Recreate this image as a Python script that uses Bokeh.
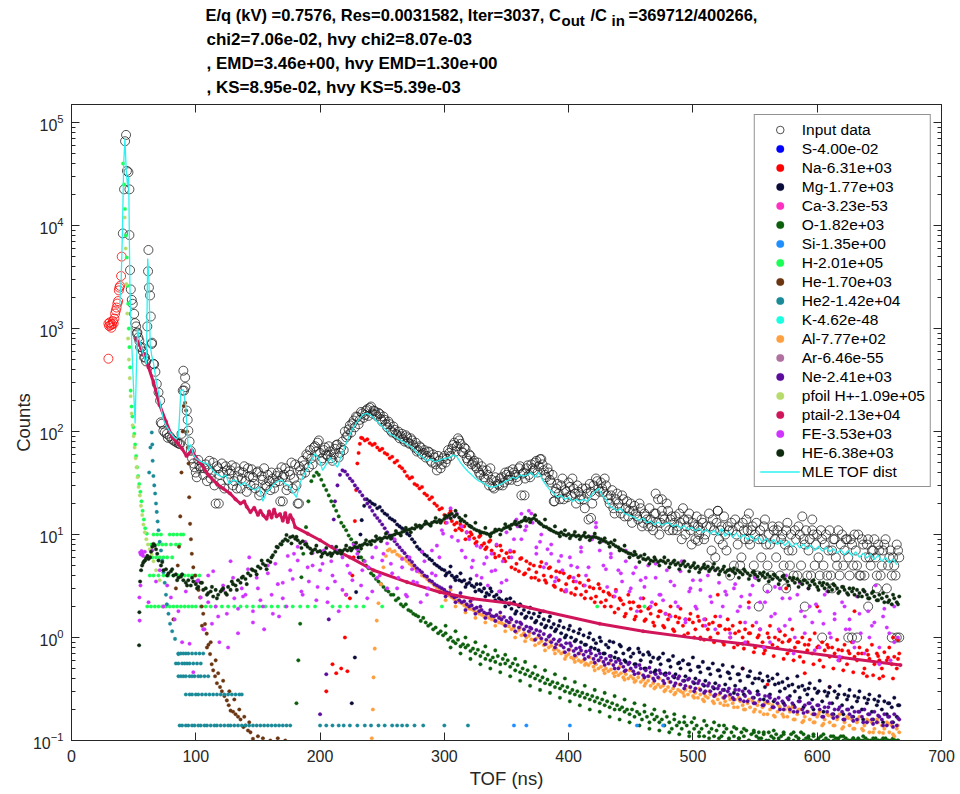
import numpy as np
from bokeh.plotting import figure
from bokeh.layouts import column
from bokeh.models import (Range1d, FixedTicker, LinearAxis, LogAxis, Legend, LegendItem,
                          ColumnDataSource)
from bokeh.embed import file_html
from bokeh.resources import INLINE
from bokeh.core.properties import value

# ------------------------------------------------------------------ data
input_red = [(29.7, 510), (29.7, 1120), (30.3, 1060), (30.9, 1150), (31.5, 1080), (32.1, 1020),
             (32.7, 1100), (33.3, 1180), (33.9, 1120), (34.5, 1250), (35.1, 1400), (35.7, 1500),
             (36.3, 1600), (36.9, 1750), (37.5, 1850), (38.1, 2350), (38.5, 2500), (39.1, 2600),
             (39.9, 3240), (40.4, 5000)]
input_early = [(41.3, 8400), (42.3, 22500), (43.1, 66000), (43.9, 76000), (44.6, 34000), (45.8, 33000),
               (46.6, 22500), (46.6, 8100), (47.1, 3700), (47.7, 2400), (48.5, 1900), (49.3, 1740),
               (50.4, 1390), (51.2, 1130), (52.0, 1050), (52.5, 900), (53.0, 915), (53.8, 820),
               (54.6, 760), (55.2, 660), (56.5, 660), (57.4, 600), (58.4, 525), (59.2, 525),
               (60.0, 480), (61.0, 1050), (61.6, 3600), (61.9, 5800), (62.3, 2500), (63.2, 2100),
               (63.8, 1310), (64.6, 710), (64.8, 730), (65.9, 455), (66.5, 450), (67.5, 380),
               (68.6, 290), (70.0, 240), (71.3, 200), (71.8, 123), (72.6, 119), (73.9, 102),
               (75.0, 98), (76.7, 95), (77.5, 87), (79.0, 90), (80.5, 85), (82.0, 82), (83.5, 80),
               (85.0, 78), (86.5, 76), (87.4, 76), (88.5, 95), (89.5, 250), (90.0, 390), (90.6, 250),
               (91.4, 335), (91.6, 270), (92.7, 160), (93.5, 130), (94.0, 102), (95.0, 80),
               (96.0, 65), (97.0, 55), (98.0, 49), (99.0, 45), (100.0, 40), (100.8, 36),
               (102.0, 53), (103.0, 46), (104.0, 44)]
input_t0 = 106
input_counts = [38, 48, 42, 35, 50, 20, 44, 31, 40, 46,
                34, 42, 30, 45, 36, 28, 40, 33, 44, 30,
                36, 28, 41, 26, 34, 30, 38, 27, 35, 32,
                40, 21, 36, 44, 30, 38, 28, 48, 20, 42,
                52, 40, 58, 66, 48, 72, 78, 62, 55, 70,
                58, 64, 52, 68, 75, 62, 80, 100, 92, 115,
                120, 110, 138, 130, 150, 145, 165, 170, 150, 158,
                140, 148, 125, 130, 110, 118, 98, 104, 92, 86,
                95, 80, 88, 76, 82, 70, 64, 72, 60, 66,
                58, 63, 50, 56, 42, 52, 48, 58, 54, 62,
                68, 78, 72, 82, 64, 70, 55, 60, 48, 52,
                44, 40, 46, 36, 42, 30, 34, 28, 33, 30,
                36, 32, 38, 41, 34, 40, 36, 44, 24, 40,
                44, 38, 48, 42, 52, 46, 54, 42, 36, 40,
                32, 21, 28, 25, 30, 22, 26, 32, 24, 28,
                20, 26, 24, 22, 28, 14, 26, 30, 35, 28,
                32, 26, 30, 22, 24, 18, 22, 20, 16, 22,
                18, 15, 20, 17, 16, 14, 18, 13, 15, 12,
                14, 11, 16, 22, 13, 15, 12, 17, 14, 11,
                15, 12, 13, 18, 10, 14, 11, 13, 9, 12,
                11, 13, 10, 5, 12, 14, 6, 17, 11, 8,
                10, 12, 4, 11, 14, 8, 5, 13, 9, 11,
                8, 12, 10, 4, 11, 9, 14, 5, 8, 12,
                9, 11, 4, 10, 8, 13, 5, 7, 11, 4,
                10, 15, 8, 4, 9, 11, 5, 10, 4, 9,
                8, 4, 11, 7, 9, 5, 4, 10, 7, 9,
                4, 8, 10, 5, 4, 9, 4, 8, 6, 7,
                9, 4, 7, 5, 8, 3, 6, 4, 5, 8,
                6]
input_t1 = 107
input_counts_odd = [44, 33, 52, 40, 30, 46, 38, 49, 28, 42,
                    39, 47, 33, 28, 41, 35, 46, 26, 37, 43,
                    31, 40, 24, 37, 44, 29, 33, 40, 28, 37,
                    33, 45, 38, 27, 41, 50, 35, 30, 46, 38,
                    47, 60, 45, 55, 70, 64, 82, 52, 66, 60,
                    72, 55, 60, 74, 56, 70, 66, 88, 105, 98,
                    128, 140, 118, 155, 136, 160, 142, 175, 160, 146,
                    152, 132, 140, 118, 125, 102, 112, 95, 100, 90,
                    84, 92, 78, 86, 74, 78, 66, 70, 62, 56,
                    64, 52, 60, 48, 58, 44, 55, 50, 66, 58,
                    74, 64, 86, 76, 62, 68, 52, 58, 50, 46,
                    50, 38, 42, 34, 38, 44, 29, 36, 31, 35,
                    30, 40, 34, 37, 43, 38, 33, 46, 39, 35,
                    47, 36, 44, 50, 40, 54, 48, 38, 44, 34,
                    38, 26, 31, 22, 35, 27, 23, 29, 35, 25,
                    30, 22, 28, 18, 25, 31, 20, 24, 33, 26,
                    28, 35, 24, 20, 27, 16, 25, 18, 24, 15,
                    21, 17, 13, 19, 15, 20, 12, 16, 14, 18,
                    12, 16, 13, 10, 17, 14, 20, 11, 15, 13,
                    11, 16, 9, 14, 12, 16, 8, 12, 15, 10,
                    14, 9, 12, 16, 7, 11, 13, 9, 12, 15,
                    7, 11, 13, 5, 10, 12, 6, 11, 14, 9,
                    11, 5, 13, 9, 6, 12, 8, 10, 4, 11,
                    6, 12, 9, 5, 11, 7, 10, 4, 9, 12,
                    5, 9, 11, 7, 4, 10, 8, 6, 11, 5,
                    10, 7, 4, 9, 6, 11, 8, 5, 9, 6,
                    9, 5, 7, 10, 4, 8, 6, 9, 5, 7,
                    6, 8, 4, 7, 9, 5, 7, 6, 4, 7]
input_extra = [(118.5, 20), (170, 21), (183, 20), (364.5, 24), (388.7, 21), (475, 22), (504, 8.7),
               (418, 14.5), (604, 1), (625, 1), (628, 1), (632, 1), (660, 1), (664, 1), (666, 1),
               (553, 2), (590, 2), (641, 2), (560, 3), (575, 3), (612, 3), (648, 3), (596, 14),
               (520, 17), (545, 16), (470, 25)]

na_pre = [(205, 0.3), (210, 0.55), (213, 0.45), (217, 0.5), (220, 1.0), (221, 2.6), (222, 0.47),
          (224, 2.4), (226, 4.0), (227, 6.0), (228, 13.5), (229, 27), (230, 49), (231, 62),
          (232, 76), (233, 87)]
na_t0 = 234
na_counts = [86, 82, 84, 77, 74, 76, 70, 66, 68, 62,
             60, 55, 57, 50, 52, 46, 44, 41, 37, 35,
             36, 31, 30, 28, 29, 25, 24, 22, 23, 20,
             19, 17.5, 18, 15.5, 15, 16, 13.5, 12.5, 13, 11.5,
             11, 12, 10.5, 9.5, 10, 9.2, 8.5, 9.5, 7.8, 8.2,
             7.5, 8.5, 7, 6.5, 7.8, 6.2, 7, 5.8, 6.6,
             6.0, 4.8, 6.8, 5.2, 4.4, 5.9, 4.1, 5.5, 4.6, 3.8,
             5.0, 4.3, 3.6, 5.4, 4.0, 3.4, 4.7, 3.9, 3.2, 4.4,
             3.6, 2.9, 4.2, 3.3, 3.8, 2.7, 3.5, 3.0, 4.0, 2.6,
             3.2, 2.8, 3.6, 2.4, 3.0, 2.5, 3.3, 2.2, 2.8, 2.3,
             2.7, 2.0, 2.5, 2.9, 1.9, 2.3, 2.1, 1.7, 2.6, 1.9,
             2.2, 1.6, 2.0, 1.8, 2.4, 1.5, 1.9, 1.7, 1.4, 2.1,
             1.6, 1.8, 1.3, 1.7, 1.5, 2.0, 1.2, 1.6, 1.4, 1.9,
             1.3, 1.5, 1.1, 1.7, 1.4, 1.2, 1.6, 1.0, 1.3, 1.5,
             1.2, 1.0, 1.4, 1.6, 1.1, 1.3, 0.9, 1.2, 1.5, 1.0,
             1.3, 1.1, 0.85, 1.4, 1.0, 1.2, 0.9, 1.1, 1.3, 0.8,
             1.0, 1.2, 0.9, 0.75, 1.1, 1.3, 0.85, 1.0, 0.8, 1.15,
             0.9, 1.05, 0.7, 0.95, 1.2, 0.8, 0.9, 0.65, 1.0, 0.85,
             0.75, 0.95, 0.7, 1.1, 0.8, 0.6, 0.9, 0.75, 0.85, 0.65,
             0.8, 0.7, 0.95, 0.6, 0.75, 0.85, 0.55, 0.7, 0.9, 0.65,
             0.6, 0.8, 0.7, 0.5, 0.75, 0.62, 0.85, 0.55, 0.7, 0.6,
             0.5, 0.72, 0.6, 0.8, 0.55, 0.65, 0.5, 0.7]
na_t1 = 301
na_counts_odd = [13, 17, 11, 12.5, 9, 10.5, 8.2, 9.8, 7.2, 8.8,
                 6.0, 7.8, 5.5, 6.8, 4.6, 5.8, 4.2, 5.2, 3.8, 4.9,
                 3.6, 4.8, 3.1, 4.3, 2.8, 3.9, 2.6, 3.4, 2.4, 3.1,
                 2.2, 3.0, 2.0, 2.6, 1.75, 2.4, 1.6, 2.2, 1.5, 2.0,
                 1.45, 1.95, 1.3, 1.8, 1.25, 1.65, 1.15, 1.55, 1.05, 1.5,
                 1.0, 1.45, 0.95, 1.35, 0.9, 1.3, 0.85, 1.2, 0.8, 1.15,
                 0.78, 1.1, 0.72, 1.05, 0.7, 1.0, 0.66, 0.95, 0.62, 0.92,
                 0.6, 0.9, 0.58, 0.85, 0.55, 0.82, 0.52, 0.8, 0.5, 0.76,
                 0.48, 0.74, 0.46, 0.7, 0.45, 0.68, 0.43, 0.66, 0.42, 0.64,
                 0.4, 0.62]
na_extra = [(520, 2.6), (545, 2.2), (575, 3.0), (600, 2.0), (630, 1.8), (560, 0.35), (610, 0.33),
            (650, 0.4), (540, 0.5), (590, 0.45), (640, 0.42), (661, 1.0), (665, 0.95)]

mg_pre = [(225.5, 0.23), (228, 0.64), (229, 2.76), (231, 6.0), (232.5, 10), (233.5, 13.8),
          (235.5, 19), (237.6, 22)]
mg_t0 = 240
mg_counts = [21, 20, 19.5, 18, 18.5, 17, 16, 15.5, 14.5, 14,
             13.5, 12.5, 12, 11.5, 11, 10.2, 9.8, 9, 8.4, 7.6,
             7.2, 6.8, 6.4, 6.2, 5.8, 5.6, 5.2, 5.0, 4.8, 4.6,
             4.5, 4.2, 4.3, 4.0, 3.8, 3.9, 3.6, 3.5, 3.6, 3.3,
             3.4, 3.2, 3.1, 3.3, 2.9, 2.8, 3.0, 2.7, 2.6, 2.8,
             2.5, 2.6, 2.4, 2.3, 2.2, 2.35,
             2.1, 1.9, 2.2, 1.8, 2.0, 1.7, 1.85, 1.6, 1.75, 1.55,
             1.7, 1.45, 1.6, 1.35, 1.5, 1.3, 1.45, 1.25, 1.35, 1.2,
             1.3, 1.1, 1.25, 1.05, 1.2, 1.0, 1.15, 0.95, 1.1, 0.9,
             1.05, 0.85, 1.0, 0.8, 0.95, 0.88, 0.75, 0.92, 0.7, 0.85,
             0.8, 0.66, 0.9, 0.72, 0.62, 0.82, 0.7, 0.58, 0.76, 0.65,
             0.7, 0.55, 0.78, 0.6, 0.68, 0.5, 0.72, 0.58, 0.64, 0.48,
             0.62, 0.55, 0.7, 0.45, 0.6, 0.52, 0.66, 0.44, 0.56, 0.5,
             0.6, 0.42, 0.55, 0.48, 0.64, 0.4, 0.52, 0.46, 0.58, 0.38,
             0.5, 0.44, 0.56, 0.36, 0.48, 0.42, 0.54, 0.35, 0.46, 0.4,
             0.52, 0.34, 0.44, 0.38, 0.5, 0.32, 0.42, 0.47, 0.36, 0.4,
             0.3, 0.45, 0.38, 0.33, 0.42, 0.28, 0.4, 0.35, 0.44, 0.3,
             0.37, 0.32, 0.4, 0.27, 0.35, 0.3, 0.42, 0.26, 0.34, 0.31,
             0.28, 0.36, 0.25, 0.32, 0.29, 0.38, 0.24, 0.3, 0.27, 0.33,
             0.23, 0.3, 0.26, 0.34, 0.22, 0.28, 0.25, 0.31, 0.21, 0.27,
             0.24, 0.3, 0.2, 0.26, 0.23, 0.28, 0.19, 0.25, 0.22, 0.27,
             0.2, 0.24, 0.18, 0.23, 0.21, 0.26, 0.17, 0.22]
mg_t1 = 301
mg_counts_odd = [4.0, 4.9, 3.6, 4.2, 3.1, 3.7, 2.8, 3.3, 2.5, 3.0,
                 2.3, 2.8, 2.0, 2.4, 1.7, 2.1, 1.55, 1.95, 1.4, 1.75,
                 1.25, 1.6, 1.15, 1.45, 1.0, 1.3, 0.92, 1.2, 0.85, 1.1,
                 0.78, 1.0, 0.7, 0.92, 0.64, 0.85, 0.6, 0.78, 0.55, 0.72,
                 0.5, 0.68, 0.46, 0.64, 0.44, 0.6, 0.41, 0.57, 0.38, 0.55,
                 0.36, 0.52, 0.34, 0.5, 0.32, 0.48, 0.31, 0.45, 0.29, 0.44,
                 0.28, 0.42, 0.26, 0.4, 0.25, 0.38, 0.24, 0.36, 0.23, 0.34,
                 0.22, 0.33, 0.21, 0.32, 0.2, 0.3, 0.19, 0.29, 0.18, 0.28,
                 0.18, 0.27, 0.17, 0.26, 0.16, 0.25, 0.16, 0.24, 0.15, 0.23,
                 0.15, 0.22]

o_pre = [(181, 0.23), (182.5, 0.6), (184, 1.36), (185, 3.85), (186.5, 6.5), (188.7, 11.8),
         (190.6, 21), (193, 33), (195, 37), (197.3, 40)]
o_t0 = 199
o_counts = [38, 34, 30, 27, 24, 21, 19, 17, 15, 13,
            12, 11, 9.8, 9.0, 8.2, 7.4, 6.8, 6.0, 5.6, 5.0,
            4.7, 4.2, 4.0, 3.7, 3.5, 3.3, 3.1, 2.9, 2.8, 2.6,
            2.6, 2.3, 2.4, 2.1, 2.0, 2.1, 1.85, 1.8, 1.7, 1.65,
            1.6, 1.45, 1.55, 1.4, 1.3, 1.35, 1.2, 1.25, 1.1, 1.15,
            1.05, 1.1, 0.95, 1.0, 0.92, 0.88, 0.95, 0.82, 0.86, 0.8,
            0.84, 0.74, 0.78, 0.7, 0.76, 0.66, 0.72, 0.62, 0.68, 0.6,
            0.64, 0.58, 0.66, 0.55, 0.62, 0.56,
            0.6, 0.52, 0.56, 0.48, 0.54, 0.46, 0.5, 0.44, 0.48, 0.42,
            0.45, 0.4, 0.43, 0.38, 0.41, 0.36, 0.39, 0.35, 0.37, 0.33,
            0.36, 0.32, 0.34, 0.3, 0.33, 0.29, 0.31, 0.28, 0.3, 0.27,
            0.29, 0.26, 0.28, 0.25, 0.27, 0.24, 0.26, 0.23, 0.25, 0.22,
            0.24, 0.21, 0.23, 0.2, 0.22, 0.2, 0.21, 0.19, 0.2, 0.18,
            0.2, 0.17, 0.19, 0.18, 0.16, 0.19, 0.17, 0.15, 0.18, 0.16,
            0.17, 0.15, 0.16, 0.14, 0.17, 0.15, 0.13, 0.16, 0.14, 0.15,
            0.13, 0.15, 0.14, 0.12, 0.15, 0.13, 0.14, 0.12, 0.13, 0.11,
            0.14, 0.12, 0.13, 0.11, 0.125, 0.14, 0.11, 0.12, 0.13, 0.105,
            0.12, 0.11, 0.13, 0.105, 0.12, 0.11, 0.125, 0.1, 0.115, 0.12,
            0.11, 0.12, 0.105, 0.115, 0.1, 0.12, 0.11, 0.105, 0.115, 0.1,
            0.11, 0.12, 0.1, 0.105, 0.115, 0.1, 0.11, 0.105, 0.12, 0.1,
            0.105, 0.11, 0.1, 0.115, 0.1, 0.105, 0.11, 0.1, 0.105, 0.1,
            0.11, 0.1, 0.105, 0.1, 0.11, 0.1, 0.105, 0.1, 0.1, 0.105,
            0.1, 0.105, 0.1, 0.1, 0.105, 0.1, 0.1, 0.1, 0.105, 0.1,
            0.1, 0.1, 0.105, 0.1, 0.1, 0.1, 0.1, 0.1]
o_t1 = 301
o_counts_odd = [1.3, 0.8, 1.15, 0.7, 1.0, 0.62, 0.9, 0.55, 0.82, 0.5,
                0.75, 0.46, 0.68, 0.42, 0.62, 0.38, 0.58, 0.34, 0.52, 0.31,
                0.48, 0.29, 0.44, 0.26, 0.4, 0.24, 0.37, 0.22, 0.34, 0.2,
                0.31, 0.19, 0.29, 0.17, 0.27, 0.16, 0.25, 0.15, 0.23, 0.14,
                0.22, 0.13, 0.2, 0.125, 0.19, 0.12, 0.18, 0.115, 0.17, 0.11,
                0.165, 0.11, 0.155, 0.105, 0.15, 0.105, 0.14, 0.1, 0.135, 0.105,
                0.13, 0.1, 0.125, 0.105, 0.12, 0.1, 0.125, 0.105, 0.115, 0.1,
                0.12, 0.1, 0.115, 0.105, 0.11, 0.1, 0.115, 0.1, 0.11, 0.105,
                0.11, 0.1, 0.105, 0.1, 0.11, 0.1, 0.105, 0.1, 0.105, 0.1,
                0.105, 0.1]

si_pts = [(356, 0.14), (366, 0.14), (401, 0.14), (455, 0.14), (476, 0.14)]

# species whose fitted counts lie far below the axis floor
s_pts = [(300, 0.004)]
ca_pts = [(300, 1e-50)]
k_pts = [(300, 1e-46)]
ar_pts = [(300, 1e-52)]

h_peak = [(41.5, 40000), (42.3, 25000), (43.0, 14500), (43.8, 8000), (44.5, 4900), (45.1, 2600),
          (45.6, 1740), (46.1, 1000), (46.6, 660), (47.1, 420), (47.6, 250), (48.3, 175),
          (49.0, 140), (49.8, 110), (50.5, 95), (51.2, 75), (52.0, 58), (52.8, 45), (53.6, 37),
          (54.5, 31), (55.4, 26), (56.3, 21), (57.2, 17), (58.2, 14), (59.3, 11.5), (60.6, 10.2)]
h_row10_t = [66, 69, 72, 79, 82, 85, 88, 90]
h_row8_t = [64, 67, 70, 73, 76, 80, 84, 87]
h_row6_t = [62, 65, 68, 71, 74, 77, 81]
h_row4_t = [63, 66, 70, 74, 78, 82, 86, 88, 91, 94, 97, 100, 103]
h_row2_t = [61, 64, 67, 70, 73, 76, 79, 82, 85, 88, 91, 94, 97, 100, 104, 108, 112, 116, 121,
            126, 131, 136, 141, 146, 151, 156, 161, 166, 172, 178, 184, 190, 196, 210, 216, 222,
            229, 235, 250, 298, 318, 423, 461]

he_pts = [(82, 1.5), (84, 3.0), (85.5, 5.0), (86.5, 7.6), (87.5, 15), (88.5, 40), (89.5, 100),
          (90.3, 177), (91.4, 190), (92.2, 160), (93.0, 100), (93.6, 70), (94.2, 49), (94.7, 23),
          (95.4, 12.7), (96.1, 9), (96.8, 6.5), (98.0, 4.8), (99.4, 4.0), (100.8, 3.5),
          (102.2, 2.9), (103.5, 2.45), (104.8, 2.0), (106.0, 1.7), (107.4, 1.35), (108.8, 1.09),
          (110.2, 0.85), (111.5, 0.69), (112.8, 0.55), (114.0, 0.48), (115.5, 0.42), (117, 0.36),
          (119.5, 0.33), (121, 0.3), (123, 0.27), (125, 0.245), (126.5, 0.22), (128, 0.195),
          (130, 0.19), (132, 0.18), (134, 0.17), (136, 0.16), (138.3, 0.135), (140, 0.14),
          (142, 0.125), (144, 0.12), (146, 0.104), (150, 0.11), (154, 0.105), (160, 0.1),
          (166, 0.105), (172, 0.1), (105, 1.3), (109, 0.8), (112, 0.9), (116, 0.6), (118, 0.45),
          (122, 0.38), (127, 0.3), (131, 0.25), (135, 0.2), (139, 0.17), (143, 0.15)]

he2_decay = [(62.5, 40), (63.5, 70), (64.6, 98), (65.0, 75), (65.3, 52), (65.9, 37), (66.6, 30),
             (67.3, 25), (68.0, 20), (68.6, 16.6), (69.3, 13.4), (70.0, 11), (71.0, 8.5), (72.0, 7),
             (73.0, 5.6), (74.0, 4.3), (75.0, 3.4), (76.0, 2.6), (76.7, 2.1), (78.0, 1.7),
             (79.3, 1.36), (81.0, 1.15), (83.3, 0.97), (86.0, 0.69)]
he2_row070_t = [86, 88, 90, 92, 94, 97, 100, 103, 106]
he2_row056_t = [84, 86, 89, 91, 93, 95, 98, 101, 104]
he2_row042_t = [86, 88, 90, 92, 95, 97, 99, 102, 104, 107, 110]
he2_row028_t = [92, 95, 97, 100, 102, 105, 108, 111, 114, 117, 120, 123, 126, 129, 132, 135, 137]
he2_row014_t = [87, 89, 92, 94, 97, 99, 102, 104, 107, 109, 112, 115, 117, 120, 123, 126, 128, 131,
                134, 137, 140, 143, 146, 149, 152, 155, 158, 161, 164, 167, 170, 173, 176, 200,
                205, 210, 215, 219, 224, 230, 236, 241, 247, 252, 258, 262, 266, 270, 276, 283,
                300, 319]

al_pre = [(241.6, 0.105), (242.5, 0.2), (243, 0.41), (244, 0.78), (245.6, 1.46), (247, 2.15),
          (249, 3.3), (251, 4.8), (253, 6.2), (254.5, 7.0)]
al_t0 = 256
al_counts = [7.2, 6.8, 6.9, 6.4, 6.2, 5.9, 5.8, 5.5, 5.2, 5.0,
             4.7, 4.5, 4.3, 4.0, 3.9, 3.7, 3.5, 3.4, 3.2, 3.05,
             2.9, 2.85, 2.7, 2.6, 2.55, 2.45, 2.35, 2.3, 2.2, 2.15,
             2.05, 2.0, 1.9, 1.88, 1.82, 1.75, 1.7, 1.66, 1.6, 1.58,
             1.55, 1.5, 1.48, 1.44, 1.4, 1.38, 1.34, 1.3,
             1.28, 1.2, 1.25, 1.12, 1.18, 1.05, 1.1, 1.0, 1.04, 0.96,
             0.94, 0.98, 0.88, 0.92, 0.84, 0.86, 0.8, 0.83, 0.76, 0.78,
             0.74, 0.7, 0.72, 0.66, 0.69, 0.64, 0.62, 0.65, 0.6, 0.58,
             0.6, 0.56, 0.54, 0.57, 0.52, 0.55, 0.5, 0.52, 0.48, 0.5,
             0.47, 0.49, 0.45, 0.46, 0.43, 0.45, 0.41, 0.44, 0.4, 0.42,
             0.4, 0.38, 0.41, 0.37, 0.39, 0.36, 0.38, 0.34, 0.36, 0.33,
             0.35, 0.33, 0.34, 0.31, 0.33, 0.3, 0.32, 0.29, 0.31, 0.3,
             0.29, 0.31, 0.28, 0.3, 0.27, 0.29, 0.26, 0.28, 0.25, 0.27,
             0.26, 0.28, 0.24, 0.27, 0.25, 0.23, 0.26, 0.24, 0.22, 0.25,
             0.23, 0.25, 0.21, 0.24, 0.22, 0.2, 0.23, 0.21, 0.24, 0.2,
             0.22, 0.19, 0.21, 0.23, 0.18, 0.2, 0.22, 0.17, 0.19, 0.21,
             0.18, 0.2, 0.17, 0.19, 0.21, 0.16, 0.18, 0.2, 0.15, 0.17,
             0.19, 0.16, 0.18, 0.15, 0.17, 0.19, 0.14, 0.16, 0.18, 0.15,
             0.17, 0.14, 0.16, 0.18, 0.13, 0.15, 0.17, 0.14, 0.16, 0.13,
             0.15, 0.17, 0.13, 0.14, 0.16, 0.12, 0.15, 0.13, 0.16, 0.12,
             0.14, 0.13, 0.15, 0.12, 0.14, 0.11, 0.13, 0.12]
al_t1 = 301
al_counts_odd = [2.3, 2.9, 2.0, 2.5, 1.75, 2.1, 1.55, 1.85, 1.4, 1.65,
                 1.3, 1.6, 1.15, 1.4, 1.0, 1.25, 0.92, 1.12, 0.84, 1.0,
                 0.75, 0.92, 0.7, 0.84, 0.62, 0.76, 0.58, 0.7, 0.54, 0.64,
                 0.48, 0.6, 0.45, 0.56, 0.42, 0.52, 0.39, 0.48, 0.37, 0.45,
                 0.34, 0.42, 0.32, 0.4, 0.3, 0.37, 0.28, 0.35, 0.27, 0.33,
                 0.26, 0.32, 0.24, 0.3, 0.23, 0.28, 0.22, 0.27, 0.21, 0.26,
                 0.2, 0.25, 0.19, 0.24, 0.18, 0.23, 0.175, 0.22, 0.17, 0.21,
                 0.16, 0.2, 0.155, 0.19, 0.15, 0.18, 0.145, 0.175, 0.14, 0.17,
                 0.135, 0.165, 0.13, 0.16, 0.125, 0.155, 0.12, 0.15, 0.118, 0.145,
                 0.115, 0.14]

ne_pre = [(200, 0.18), (205, 0.44), (207, 1.5), (209.4, 7.6), (211, 14), (212, 21), (214, 30),
          (216, 38), (218, 42)]
ne_t0 = 220
ne_counts = [41, 38, 35, 33, 30, 28, 26, 24, 22, 20,
             18.5, 17, 15.5, 14.5, 13.5, 12.5, 11.5, 10.5, 9.8, 9.2,
             8.6, 8.0, 7.5, 7.0, 6.6, 6.1, 5.7, 5.4, 5.0, 4.7,
             4.5, 4.3, 4.0, 3.9, 3.6, 3.5, 3.3, 3.2, 3.1, 3.0,
             2.9, 2.75, 2.7, 2.55, 2.45, 2.5, 2.3, 2.2, 2.25, 2.1,
             2.0, 2.05, 1.9, 1.95, 1.8, 1.85, 1.75, 1.7, 1.72, 1.62,
             1.6, 1.65, 1.55, 1.5, 1.58, 1.45,
             1.4, 1.5, 1.3, 1.42, 1.25, 1.35, 1.2, 1.28, 1.15, 1.22,
             1.1, 1.18, 1.05, 0.98, 1.08, 0.95, 1.02, 0.9, 0.96, 0.86,
             0.92, 0.84, 0.8, 0.88, 0.76, 0.83, 0.74, 0.78, 0.7, 0.75,
             0.68, 0.73, 0.65, 0.7, 0.62, 0.67, 0.6, 0.64, 0.58, 0.62,
             0.56, 0.6, 0.54, 0.58, 0.5, 0.56, 0.52, 0.48, 0.55, 0.5,
             0.47, 0.52, 0.45, 0.5, 0.43, 0.48, 0.42, 0.46, 0.4, 0.44,
             0.41, 0.45, 0.38, 0.43, 0.4, 0.37, 0.42, 0.36, 0.4, 0.35,
             0.38, 0.34, 0.39, 0.33, 0.37, 0.32, 0.36, 0.31, 0.35, 0.3,
             0.34, 0.3, 0.33, 0.28, 0.32, 0.29, 0.31, 0.27, 0.3, 0.28,
             0.26, 0.31, 0.28, 0.25, 0.3, 0.27, 0.24, 0.29, 0.26, 0.23,
             0.28, 0.25, 0.22, 0.27, 0.24, 0.26, 0.21, 0.25, 0.23, 0.2,
             0.24, 0.22, 0.26, 0.2, 0.23, 0.21, 0.19, 0.24, 0.2, 0.22,
             0.19, 0.23, 0.21, 0.18, 0.22, 0.2, 0.17, 0.21, 0.19, 0.23,
             0.18, 0.2, 0.17, 0.21, 0.19, 0.16, 0.2, 0.18, 0.17, 0.19,
             0.16, 0.19, 0.17, 0.2, 0.15, 0.18, 0.16, 0.19, 0.15, 0.17,
             0.16, 0.18, 0.14, 0.17, 0.15, 0.18, 0.14, 0.16]
ne_t1 = 301
ne_counts_odd = [2.5, 3.1, 2.2, 2.7, 1.85, 2.25, 1.7, 2.0, 1.55, 1.85,
                 1.45, 1.75, 1.3, 1.55, 1.15, 1.4, 1.05, 1.25, 0.95, 1.15,
                 0.86, 1.05, 0.8, 0.95, 0.72, 0.88, 0.67, 0.8, 0.62, 0.75,
                 0.57, 0.7, 0.54, 0.66, 0.5, 0.6, 0.47, 0.57, 0.44, 0.54,
                 0.41, 0.51, 0.38, 0.48, 0.36, 0.45, 0.34, 0.42, 0.32, 0.4,
                 0.3, 0.38, 0.29, 0.36, 0.27, 0.34, 0.26, 0.32, 0.25, 0.31,
                 0.24, 0.3, 0.23, 0.28, 0.22, 0.27, 0.21, 0.26, 0.2, 0.25,
                 0.19, 0.24, 0.185, 0.23, 0.18, 0.22, 0.17, 0.21, 0.165, 0.2,
                 0.16, 0.2, 0.155, 0.19, 0.15, 0.18, 0.145, 0.175, 0.14, 0.17,
                 0.135, 0.165]

pfoil_pts = [(42.8, 12000), (43.6, 6000), (44.2, 2700), (44.9, 1400), (45.5, 800), (46.2, 500),
             (46.9, 330), (47.6, 220), (48.4, 150), (49.2, 115), (50.0, 90), (50.8, 70), (51.6, 55),
             (52.4, 45), (53.2, 36), (54.0, 29), (55.0, 24), (55.9, 19), (56.9, 15.5), (57.9, 12.5),
             (59.0, 10.5), (60.2, 9.0), (61.5, 8.0), (63.0, 7.2), (64.5, 6.4), (66.0, 5.5),
             (68.0, 4.5), (71.0, 3.6), (74.0, 2.0)]

ptail_pts = [(52, 800), (55, 690), (58, 560), (62, 420), (66, 300), (71, 180), (76, 125), (81, 88),
             (85, 78), (89, 68), (92.5, 58), (96.8, 66), (100, 56), (103.5, 50), (110, 38),
             (117, 31), (122, 28), (127.6, 25), (132, 22), (136, 20), (139, 21), (141, 18.6),
             (144, 16.5), (147, 18.2), (150, 15.5), (152, 17), (154.4, 15.3), (157, 14.2),
             (159, 16.8), (161, 14.6), (163, 17.5), (165, 15.0), (167.8, 15.8), (170, 13.6),
             (172, 16.2), (174, 13.2), (176, 15.5), (178, 14.0), (180, 11.8), (190, 10.2),
             (200, 8.8), (216, 6.7), (224, 6.0), (243, 4.5), (270, 3.45), (296.5, 2.75),
             (323, 2.38), (353, 2.15), (380, 1.8), (425, 1.36), (460, 1.15), (506, 0.97),
             (540, 0.87), (578, 0.75), (620, 0.64), (667, 0.54)]

fe_pre = [(54.6, 2.45), (54.8, 1.46), (55.2, 6.7), (55.5, 3.2), (55.8, 6.4), (56.4, 6.9),
          (57.0, 6.5), (57.6, 6.2)]
fe_t0 = 56
fe_counts = [6.5, 6.8, 2.2, 7.0, 3.5, 4.5, 2.0, 3.2, 2.45, 1.5,
             1.8, 0.9, 2.8, 0.87, 0.46, 3.5, 2.45, 1.2, 4.0, 1.36,
             2.0, 0.9, 3.2, 1.7, 5.5, 2.4, 1.1, 3.0, 2.6, 6.0,
             1.8, 3.8, 2.3, 1.2, 4.2, 2.6, 5.2, 1.6, 3.4, 2.0,
             4.5, 6.5, 5.6, 2.8, 8.5, 3.5, 5.0, 2.3, 4.5, 7.0,
             3.0, 5.5, 3.5, 1.8, 6.0, 2.6, 4.2, 8.0, 6.5, 3.2,
             5.5, 4.8, 2.8, 7.5, 4.0, 6.5, 3.0, 5.2, 9.0, 3.8,
             4.8, 2.6, 6.0, 3.5, 4.4, 2.2, 5.5, 3.0, 7.0, 4.0,
             6.0, 10.2, 13.0, 18, 15, 8.7, 12, 6.0, 9.0, 5.6,
             4.0, 7.5, 5.2, 3.2, 6.5, 4.5, 2.8, 5.5, 3.6, 7.0,
             9.0, 12.0, 15.9, 11.0, 17, 13.0, 6.5, 8.5, 4.8, 7.2,
             6.5, 3.5, 5.5, 4.5, 2.8, 6.0, 3.8, 4.8, 7.5, 3.2,
             4.8, 9.0, 11.8, 7.0, 5.0, 3.1, 6.5, 2.5, 4.5, 3.5,
             5.5, 2.8, 4.2, 1.8, 3.6, 3.1, 5.0, 2.2, 3.8, 2.6,
             2.3, 4.5, 1.6, 3.2, 2.0, 5.5, 1.4, 2.8, 3.6, 1.9,
             2.9, 1.5, 4.0, 2.2, 1.2, 3.4, 2.0, 2.6, 1.0, 3.0,
             1.8, 2.5, 0.9, 1.95, 3.2, 1.4, 2.2, 0.8, 2.8, 1.6,
             3.1, 1.2, 2.4, 4.0, 1.5, 0.7, 2.6, 1.8, 1.1, 3.0,
             1.4, 2.1, 0.8, 1.36, 2.8, 1.0, 1.7, 0.6, 2.2, 1.2,
             1.5, 0.9, 2.5, 1.1, 0.7, 1.8, 1.3, 3.2, 0.8, 1.6,
             1.25, 0.6, 2.0, 1.0]
fe_t1 = 102
fe_counts_b = [3.6, 1.2, 2.2, 4.4, 1.6, 2.9, 0.8, 3.8, 1.9, 2.5,
               4.6, 1.4, 3.0, 2.0, 5.0, 1.7, 3.3, 2.4, 6.2, 3.7,
               7.6, 2.6, 4.8, 6.6, 3.1, 5.2, 2.2, 4.0, 7.0, 2.9,
               5.0, 3.6, 7.2, 4.5, 2.4, 6.0, 3.8, 5.6, 8.2, 4.2,
               3.0, 5.8, 2.5, 4.6, 3.4, 6.8, 2.6, 4.2, 7.8, 11.0,
               14.5, 9.5, 16.0, 7.0, 10.5, 4.8, 7.8, 3.8, 6.0, 4.4,
               8.0, 3.4, 10.5, 6.0, 14.0, 9.0, 12.0, 16.0, 7.5, 10.0,
               5.2, 8.0, 3.8, 6.2, 2.9, 5.0, 3.5, 6.8, 4.0, 9.5,
               13.0, 8.5, 4.6, 6.0, 2.8, 4.2, 7.0, 3.0, 4.8, 2.4,
               3.8, 2.0, 5.2, 2.6, 1.7, 3.5, 2.2, 4.4, 1.5, 3.0,
               2.0, 3.6, 1.3, 2.5, 4.5, 1.6, 2.8, 1.1, 3.3, 2.0,
               1.4, 2.6, 3.8, 1.2, 2.2, 0.9, 1.7, 3.0, 1.3, 2.4,
               1.0, 3.4, 1.6, 2.0, 0.75, 1.8, 2.6, 1.1, 1.5, 0.65,
               2.0, 1.2, 0.8, 1.7, 2.8, 1.0, 1.4, 0.55, 1.9, 1.1,
               0.9]

hev_pre = [(54.4, 0.84), (54.6, 1.76), (55.2, 3.5), (56.0, 4.5), (56.8, 5.0), (57.6, 5.3),
           (58.4, 5.5), (59.2, 5.6), (60.0, 5.9), (61.0, 6.2), (62.0, 5.8), (63.2, 6.0),
           (64.0, 6.8), (65.0, 7.6), (65.9, 8.1), (67.0, 7.8), (68.0, 7.2), (69.0, 6.5), (70.0, 5.6)]
hev_t0 = 72
hev_counts = [5.0, 4.5, 4.6, 4.2, 4.4, 4.0, 4.1, 3.8, 3.9, 3.6,
              3.4, 3.6, 3.2, 3.5, 3.3, 3.1, 3.4, 2.9, 3.0, 2.7,
              2.8, 2.5, 2.9, 2.6, 2.8, 3.0, 2.7, 3.1, 2.9, 3.3,
              3.2, 3.6, 3.4, 3.9, 3.7, 4.2, 4.0, 4.5, 4.4, 4.9,
              4.7, 5.2, 5.0, 5.6, 5.4, 6.3, 6.8, 7.5, 8.1, 8.6,
              9.0, 8.7, 9.4, 9.6, 9.1, 8.8, 8.3, 8.6, 8.0, 7.6,
              7.3, 7.0, 7.2, 6.8, 6.9, 6.5, 6.7, 6.4, 6.6, 6.5,
              6.8, 6.6, 7.0, 6.9, 7.2, 7.0, 7.4, 7.3, 7.6, 7.5,
              7.8, 7.9, 8.2, 8.0, 8.5, 8.7, 8.6, 9.0, 9.2, 9.1,
              9.4, 9.3, 9.6, 9.8, 10.0, 10.3, 10.2, 10.6, 10.8, 11.0,
              11.2, 11.5, 11.4, 11.9, 12.2, 12.0, 12.6, 12.8, 12.5, 13.0,
              13.4, 13.2, 13.8, 13.6, 14.2, 14.8, 15.4, 15.9, 15.0, 15.6,
              14.6, 14.0, 13.4, 12.8, 12.2, 11.8, 11.3, 11.0, 10.8, 10.5,
              10.4, 10.2, 10.0, 10.3, 10.6, 10.9, 11.2, 11.0, 11.5, 11.8,
              12.0, 12.4, 12.7, 12.5, 13.0, 13.4, 13.8, 13.6, 14.2, 14.0,
              14.4, 13.8, 13.2, 12.6, 12.0, 11.8, 11.4, 11.0, 10.7, 10.4,
              10.2, 10.5, 10.0, 9.8, 10.1, 9.7, 9.9, 9.6, 9.8, 9.5,
              9.8, 9.4, 9.6, 9.3, 9.5, 9.4, 9.2, 9.0, 8.7, 8.5,
              8.2, 8.4, 8.0, 7.7, 7.5, 7.2, 7.0, 6.8, 6.6, 6.5,
              6.3, 6.4, 6.0, 6.2, 5.8, 5.7, 5.9, 5.6, 5.5, 5.7,
              5.4, 5.6, 5.5, 5.3, 5.6, 5.2, 5.4, 5.1, 5.3, 5.0,
              5.2, 4.9, 5.1, 4.8, 5.0, 4.7, 4.9, 4.6, 4.8, 4.7,
              4.9, 4.6, 4.8, 4.5, 4.7, 4.4, 4.6, 4.3, 4.5, 4.6,
              4.4, 4.2, 4.5, 4.3, 4.1, 4.4, 4.2, 4.0, 4.3, 4.1,
              3.9, 4.2, 4.0, 3.8, 4.1, 3.9, 3.7, 4.0, 3.8, 3.6,
              3.9, 3.7, 3.5, 3.8, 3.6, 3.4, 3.7, 3.5, 3.3, 3.6,
              3.4, 3.2, 3.5, 3.3, 3.1, 3.4, 3.2, 3.0, 3.3, 3.1,
              2.9, 3.2, 3.0, 2.8, 3.1, 2.9, 2.7, 3.0, 2.8, 2.6,
              2.9, 2.7, 2.5, 2.8, 2.6, 2.4, 2.7, 2.5, 2.3, 2.6,
              2.4, 2.2, 2.5, 2.3, 2.1, 2.4, 2.2, 2.5]
hev_t1 = 73
hev_counts_b = [5.4, 4.0, 4.6, 3.6, 4.1, 3.2, 3.8, 3.0, 3.4, 2.6,
                3.1, 2.4, 2.9, 2.6, 3.5, 2.9, 3.8, 3.3, 4.6, 4.1,
                5.6, 4.6, 6.0, 7.6, 8.0, 9.9, 8.2, 9.5, 7.4, 8.1,
                6.6, 7.8, 6.1, 7.4, 6.2, 7.6, 6.5, 7.8, 7.0, 8.3,
                7.3, 8.8, 8.0, 9.6, 8.6, 10.2, 9.1, 10.8, 9.8, 11.6,
                10.5, 12.4, 11.6, 13.4, 12.2, 14.5, 13.0, 15.2, 14.4, 17.0,
                13.5, 15.2, 12.0, 13.0, 10.4, 11.6, 9.6, 11.2, 10.0, 12.6,
                11.4, 13.4, 12.0, 14.6, 13.2, 15.4, 12.8, 14.0, 11.2, 12.0,
                9.6, 11.0, 9.2, 10.6, 9.0, 10.4, 8.8, 10.2, 8.4, 9.2,
                7.6, 8.8, 7.0, 7.8, 6.0, 6.8, 5.4, 6.4, 5.2, 6.0,
                5.0, 6.0, 4.8, 5.6, 4.6, 5.5, 4.4, 5.3, 4.3, 5.1,
                4.4, 5.2, 4.1, 4.9, 4.0, 4.7, 3.8, 4.6, 3.7, 4.4,
                3.6, 4.3, 3.5, 4.1, 3.3, 4.0, 3.2, 3.8, 3.1, 3.6,
                3.0, 3.6, 2.9, 3.4, 2.8, 3.3, 2.7, 3.1, 2.6, 3.0,
                2.5, 2.9, 2.4, 2.8, 2.3, 2.7, 2.2, 2.6, 2.1]

mle_early = [(38.5, 1500), (40.0, 3000), (41.0, 9000), (42.0, 40000), (43.0, 70000), (44.0, 35000),
             (45.0, 25000), (46.0, 30000), (47.0, 2500), (48.5, 700), (50.0, 250), (51.2, 120),
             (52.2, 400), (53.2, 1000), (54.5, 800), (56.0, 680), (57.5, 580), (59.0, 500),
             (60.3, 450), (61.3, 4800), (62.3, 3000), (63.3, 700), (64.5, 550), (66.0, 460),
             (68.0, 320), (70.0, 240), (72.0, 170), (74.0, 130), (76.0, 115), (78.0, 105),
             (80.0, 96), (82.0, 90), (84.0, 85), (86.0, 88), (88.0, 250), (90.0, 255), (92.0, 170),
             (94.0, 65), (96.0, 75), (98.0, 60)]
mle_t0 = 100
mle_counts = [55, 52, 50, 49, 45, 40, 38, 36, 38, 31,
              34, 33, 30, 32, 30, 28, 27, 29, 21, 26,
              28, 31, 33, 34, 31, 30, 26, 23, 32, 38,
              44, 52, 61, 55, 42, 48, 56, 50, 45, 58,
              72, 88, 105, 120, 135, 148, 150, 143, 132, 122,
              112, 104, 95, 91, 86, 82, 78, 74, 70, 64,
              59, 56, 52, 54, 51, 52, 54, 55, 56, 59,
              57, 50, 45, 41, 38, 35, 33, 32, 30, 29,
              29, 30, 31, 33, 34, 36, 35, 38, 37, 38,
              40, 36, 40, 34, 30, 27, 25, 23, 24, 22,
              23, 21, 22, 21, 22, 21, 24, 26, 28, 24,
              22, 19, 18, 17, 18, 16, 15.5, 15, 14.5, 13.7,
              14.5, 13, 13.5, 12.5, 13.2, 12.3, 12.8, 13, 12, 12.5,
              11.5, 12.2, 11.2, 11.8, 10.8, 11.5, 10.5, 11.2, 10.2, 11,
              9.8, 11.5, 9.6, 10.6, 9.4, 10.4, 9.2, 10.0, 8.9, 9.8,
              8.6, 9.5, 8.4, 9.2, 8.2, 9.0, 8.0, 8.8, 7.8, 8.6,
              7.6, 8.3, 7.4, 8.1, 7.2, 7.9, 7.0, 7.7, 6.9, 7.5,
              6.8, 7.3, 6.6, 7.1, 6.4, 7.0, 6.2, 6.8, 6.0, 6.6,
              5.9, 6.5, 5.7, 6.3, 5.5, 6.0, 5.3, 5.8, 5.1]

legend_labels = ["Input data", "S-4.00e-02", "Na-6.31e+03", "Mg-1.77e+03", "Ca-3.23e-53",
                 "O-1.82e+03", "Si-1.35e+00", "H-2.01e+05", "He-1.70e+03", "He2-1.42e+04",
                 "K-4.62e-48", "Al-7.77e+02", "Ar-6.46e-55", "Ne-2.41e+03", "pfoil H+-1.09e+05",
                 "ptail-2.13e+04", "FE-3.53e+03", "HE-6.38e+03", "MLE TOF dist"]
x_ticks = [0, 100, 200, 300, 400, 500, 600, 700]
y_ticks = [0.1, 1, 10, 100, 1000, 10000, 100000]

# title text pieces (header pixel positions)
title1_text = ["E/q (kV) =0.7576, Res=0.0031582, Iter=3037, C", "/C", " =369712/400266,"]
title1_x = [205, 590, 628]
title1_y = [14.5, 14.5, 14.5]
title_rest_text = [" chi2=7.06e-02, hvy chi2=8.07e-03", ", EMD=3.46e+00, hvy EMD=1.30e+00",
                   ", KS=8.95e-02, hvy KS=5.39e-03"]
title_rest_x = [206, 206, 206]
title_rest_y = [38.5, 62.5, 86.5]
sub_text = ["out", "in"]
sub_x = [561, 611]
sub_y = [20, 20]

# ------------------------------------------------------------------ helpers
def unzip(pairs):
    return [a for a, b in pairs], [b for a, b in pairs]

def grid(t0, vals, dt=2):
    return [t0 + dt * i for i in range(len(vals))]

def join(*parts):
    xs, ys = [], []
    for xx, yy in parts:
        xs += list(xx)
        ys += list(yy)
    return xs, ys

def row(ts, v):
    return list(ts), [v] * len(ts)

# ------------------------------------------------------------------ header with title
FONT = "Liberation Sans"
AX = "#262626"
FL, FR, FB = 71, 19, 54
HEAD_H = 101

head = figure(width=960, height=HEAD_H, x_range=Range1d(FL, 960 - FR), y_range=Range1d(HEAD_H, 0),
              output_backend="svg", toolbar_location=None, x_axis_location=None,
              y_axis_location=None, min_border_left=FL, min_border_right=FR, min_border_top=0,
              min_border_bottom=0, outline_line_color=None,
              background_fill_color="white", border_fill_color="white")
head.xgrid.grid_line_color = None
head.ygrid.grid_line_color = None

def head_text(xs, ys, texts, size):
    head.text(x=xs, y=ys, text=texts, text_font=value(FONT), text_font_size=value(size),
              text_font_style=value("bold"), text_baseline=value("alphabetic"),
              text_align=value("left"), text_color="black")

head_text(title1_x, title1_y, title1_text, "16.5px")
head_text(title_rest_x, title_rest_y, title_rest_text, "17px")
head_text(sub_x, sub_y, sub_text, "15px")

# ------------------------------------------------------------------ main figure
p = figure(width=960, height=794 - HEAD_H, x_range=Range1d(0, 700), y_range=Range1d(0.1, 1.5e5),
           y_axis_type="log", output_backend="svg", toolbar_location=None,
           min_border_left=FL, min_border_right=FR, min_border_top=3, min_border_bottom=FB,
           background_fill_color="white", border_fill_color="white")
p.xgrid.grid_line_color = None
p.ygrid.grid_line_color = None
p.outline_line_color = AX

xt = FixedTicker(ticks=x_ticks)
yminor = [m * 10.0 ** k for k in range(-1, 5) for m in range(2, 10)]
yt = FixedTicker(ticks=y_ticks, minor_ticks=yminor)
p.xaxis.ticker = xt
p.yaxis.ticker = yt

def style_axis(ax, labels=True):
    ax.axis_line_color = AX
    ax.major_tick_line_color = AX
    ax.minor_tick_line_color = AX
    ax.major_tick_in = 8
    ax.major_tick_out = 0
    ax.minor_tick_in = 4
    ax.minor_tick_out = 0
    ax.major_label_text_font = FONT
    ax.major_label_text_font_size = "16px"
    ax.major_label_text_color = AX
    if not labels:
        ax.major_label_text_font_size = "2px"
        ax.major_label_text_alpha = 0.0
        ax.major_label_standoff = 0

style_axis(p.xaxis[0])
style_axis(p.yaxis[0])
p.xaxis[0].minor_tick_line_color = None
p.xaxis[0].major_label_standoff = 9
p.yaxis[0].major_label_standoff = 8
p.xaxis.axis_label = "TOF (ns)"
p.yaxis.axis_label = "Counts"
for ax in (p.xaxis[0], p.yaxis[0]):
    ax.axis_label_text_font = FONT
    ax.axis_label_text_font_size = "18.5px"
    ax.axis_label_text_font_style = "normal"
    ax.axis_label_text_color = AX
p.xaxis[0].axis_label_standoff = 3
try:
    p.yaxis[0].axis_label_standoff = -4
except Exception:
    p.yaxis[0].axis_label_standoff = 0

top_ax = LinearAxis(ticker=xt)
style_axis(top_ax, labels=False)
top_ax.minor_tick_line_color = None
p.add_layout(top_ax, "above")
right_ax = LogAxis(ticker=yt)
style_axis(right_ax, labels=False)
p.add_layout(right_ax, "right")

colors = {
    "S": "#0000ff", "Na": "#ff0000", "Mg": "#0b0b3a", "Ca": "#ff2fc0", "O": "#0c5f0c",
    "Si": "#1f8fff", "H": "#1aff55", "He": "#6b3512", "He2": "#1a8a98", "K": "#1affe0",
    "Al": "#ffa040", "Ar": "#b070a0", "Ne": "#5b0c9c", "pfoil": "#b8dc6c", "ptail": "#d1155a",
    "FE": "#cf33ff", "HE": "#0f2b0f", "MLE": "#2ff0f0",
}
DOT = 3.6
LEG_DOT = 5.5

legend_only = {}

def dots(key, xs, ys, size=DOT):
    col = colors[key]
    r = p.scatter(xs, ys, marker="circle", size=size, fill_color=col, line_color=col,
                  line_width=0.3)
    # same data, larger marker, hidden: used only to draw the legend swatch
    legend_only[key] = p.scatter(xs, ys, marker="circle", size=LEG_DOT, fill_color=col,
                                 line_color=col, line_width=0.3, visible=False)
    return r

ix, iy = join(unzip(input_early), (grid(input_t0, input_counts), input_counts),
              (grid(input_t1, input_counts_odd), input_counts_odd), unzip(input_extra))
r_input = p.scatter(ix, iy, marker="circle", size=9, fill_color=None, line_color="#1a1a1a",
                    line_alpha=0.75, line_width=1)
rx, ry = unzip(input_red)
p.scatter(rx, ry, marker="circle", size=9, fill_color=None, line_color="#ff0000", line_alpha=0.8,
          line_width=1)

dots("S", *unzip(s_pts))
dots("Na", *join(unzip(na_pre), (grid(na_t0, na_counts), na_counts),
                 (grid(na_t1, na_counts_odd, 4), na_counts_odd), unzip(na_extra)))
dots("Mg", *join(unzip(mg_pre), (grid(mg_t0, mg_counts), mg_counts),
                 (grid(mg_t1, mg_counts_odd, 4), mg_counts_odd)))
dots("Ca", *unzip(ca_pts))
dots("O", *join(unzip(o_pre), (grid(o_t0, o_counts), o_counts),
                (grid(o_t1, o_counts_odd, 4), o_counts_odd)))
dots("Si", *unzip(si_pts))
dots("H", *join(unzip(h_peak), row(h_row10_t, 10), row(h_row8_t, 8), row(h_row6_t, 6),
                row(h_row4_t, 4), row(h_row2_t, 2)))
dots("He", *unzip(he_pts))
dots("He2", *join(unzip(he2_decay), row(he2_row070_t, 0.70), row(he2_row056_t, 0.56),
                  row(he2_row042_t, 0.42), row(he2_row028_t, 0.28), row(he2_row014_t, 0.14)))
dots("K", *unzip(k_pts))
dots("Al", *join(unzip(al_pre), (grid(al_t0, al_counts), al_counts),
                 (grid(al_t1, al_counts_odd, 4), al_counts_odd)))
dots("Ar", *unzip(ar_pts))
dots("Ne", *join(unzip(ne_pre), (grid(ne_t0, ne_counts), ne_counts),
                 (grid(ne_t1, ne_counts_odd, 4), ne_counts_odd)))
dots("pfoil", *unzip(pfoil_pts))
ptx, pty = unzip(ptail_pts)
p.line(ptx, pty, line_color=colors["ptail"], line_width=3)
dots("ptail", ptx, pty)
dots("FE", *join(unzip(fe_pre), (grid(fe_t0, fe_counts, 3), fe_counts),
                 (grid(fe_t1, fe_counts_b, 4), fe_counts_b)))
dots("HE", *join(unzip(hev_pre), (grid(hev_t0, hev_counts), hev_counts),
                 (grid(hev_t1, hev_counts_b, 4), hev_counts_b)))
mx, my = join(unzip(mle_early), (grid(mle_t0, mle_counts, 3), mle_counts))
r_mle = p.line(mx, my, line_color=colors["MLE"], line_width=1.3)

order = ["S", "Na", "Mg", "Ca", "O", "Si", "H", "He", "He2", "K", "Al", "Ar", "Ne", "pfoil",
         "ptail", "FE", "HE"]
items = [LegendItem(label=legend_labels[0], renderers=[r_input])]
for k, lab in zip(order, legend_labels[1:-1]):
    items.append(LegendItem(label=lab, renderers=[legend_only[k]]))
items.append(LegendItem(label=legend_labels[-1], renderers=[r_mle]))

legend = Legend(items=items, location="top_right", margin=10, padding=5, spacing=0,
                glyph_width=40, glyph_height=19, label_height=19,
                label_standoff=2, label_text_font=FONT, label_text_font_size="15.5px",
                label_text_color="black", border_line_color=AX, border_line_width=1,
                background_fill_color="white", background_fill_alpha=1.0,
                inactive_fill_alpha=0.0)
p.add_layout(legend)

layout = column(head, p, spacing=0)
open("out.html", "w").write(file_html(layout, INLINE))
